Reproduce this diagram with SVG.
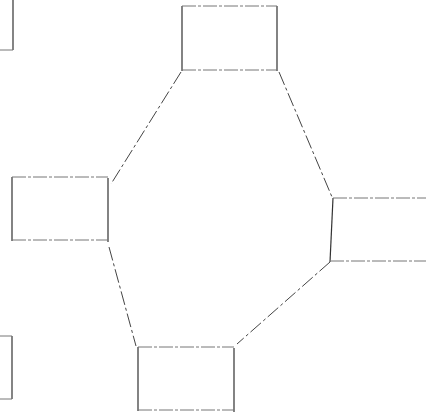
<svg xmlns="http://www.w3.org/2000/svg" width="426" height="415" viewBox="0 0 426 415">
<style>
.v{stroke:#333;stroke-width:1.2;fill:none}
.h{stroke:#777;stroke-width:1;fill:none;stroke-dasharray:14 2 3 2}
.c{stroke:#444;stroke-width:1;fill:none;stroke-dasharray:14 3 3 3}
</style>
<rect width="426" height="415" fill="#fff"/>
<g id="node-topleft">
<path class="v" d="M13 0 V50"/>
<path class="h" d="M0 50 H13"/>
</g>
<g id="node-top">
<path class="v" d="M182 6 V71 M277 6 V71"/>
<path class="h" d="M182 6 H277 M182 70 H277"/>
</g>
<g id="node-left">
<path class="v" d="M12 177 V241 M108 178 V242"/>
<path class="h" d="M12 177 H108 M12 240 H108"/>
</g>
<g id="node-right">
<path class="v" d="M333 198 L330 262"/>
<path class="h" d="M333 198 H426 M330 261 H426"/>
</g>
<g id="node-bottom">
<path class="v" d="M138 347 V411 M234 348 V412"/>
<path class="h" d="M138 347 H234 M138 410 H234"/>
</g>
<g id="node-bottomleft">
<path class="v" d="M12 336 V399"/>
<path class="h" d="M0 336 H12 M0 399 H12"/>
</g>
<g id="connectors">
<path class="c" d="M181 72 L111 184"/>
<path class="c" d="M109 247 L136 346"/>
<path class="c" d="M279 72 L332 197"/>
<path class="c" d="M330 262 L237 344"/>
</g>
</svg>
